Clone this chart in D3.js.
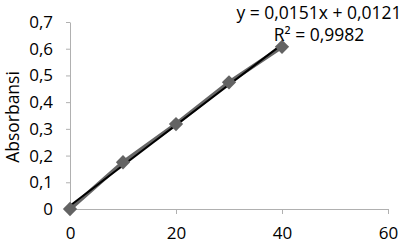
<!DOCTYPE html>
<html>
<head>
<meta charset="utf-8">
<script src="https://cdn.jsdelivr.net/npm/d3@7"></script>
<style>
body { margin: 0; background: #fff; }
text { font-family: "Open Sans", sans-serif; fill: #000; }
</style>
</head>
<body>
<script>
var w = 405;
var h = 244;

// data
var konsentrasi = [0, 10, 20, 30, 40];
var absorbansi = [0, 0.175, 0.318, 0.474, 0.607];
var slope = 0.0151;
var intercept = 0.0121;
var xTicks = [0, 20, 40, 60];
var yTicks = [0, 0.1, 0.2, 0.3, 0.4, 0.5, 0.6, 0.7];
var eqLines = ["y = 0,0151x + 0,0121", "R² = 0,9982"];

var x = d3.scaleLinear().domain([0, 60]).range([70, 388]);
var y = d3.scaleLinear().domain([0, 0.7]).range([209, 22]);

var fmt = function(d){ return String(d).replace(".", ","); };

var svg = d3.select("body").append("svg")
    .attr("width", w)
    .attr("height", h);

//---axes----
var gy = svg.append("g")
    .attr("transform", "translate(70,0)")
    .call(d3.axisLeft(y).tickValues(yTicks).tickFormat(fmt).tickSize(4).tickSizeOuter(0));
gy.select(".domain").attr("stroke", "#b0b0b0");
gy.selectAll(".tick line").attr("stroke", "#b0b0b0");
gy.selectAll(".tick text")
    .attr("x", -17)
    .attr("font-size", 17)
    .attr("fill", "#000");

var gx = svg.append("g")
    .attr("transform", "translate(0,209)")
    .call(d3.axisBottom(x).tickValues(xTicks).tickFormat(fmt).tickSize(5).tickSizeOuter(0));
gx.select(".domain").attr("stroke", "#b0b0b0");
gx.selectAll(".tick line").attr("stroke", "#b0b0b0");
gx.selectAll(".tick text")
    .attr("y", 30)
    .attr("dy", 0)
    .attr("font-size", 17)
    .attr("fill", "#000");
svg.selectAll(".tick text").style("font-family", "'Open Sans', sans-serif");

svg.append("text")
    .text("Absorbansi")
    .attr("transform", "translate(19,117) rotate(-90)")
    .attr("text-anchor", "middle")
    .attr("font-size", 17.5);

//---series----
var pts = konsentrasi.map(function(d, i){ return [d, absorbansi[i]]; });

svg.append("path")
    .datum(pts)
    .attr("fill", "none")
    .attr("stroke", "#666")
    .attr("stroke-width", 4)
    .attr("d", d3.line().x(function(d){ return x(d[0]); }).y(function(d){ return y(d[1]); }));

svg.append("line")
    .attr("x1", x(konsentrasi[0]))
    .attr("y1", y(intercept + slope * konsentrasi[0]))
    .attr("x2", x(konsentrasi[konsentrasi.length - 1]))
    .attr("y2", y(intercept + slope * konsentrasi[konsentrasi.length - 1]))
    .attr("stroke", "#000")
    .attr("stroke-width", 2);

svg.selectAll(".pt")
    .data(pts)
    .enter().append("path")
    .attr("class", "pt")
    .attr("transform", function(d){ return "translate(" + x(d[0]) + "," + y(d[1]) + ")"; })
    .attr("d", d3.symbol().type(d3.symbolDiamond2).size(130))
    .attr("fill", "#636363");

//---equation----
svg.selectAll(".eq")
    .data(eqLines)
    .enter().append("text")
    .attr("class", "eq")
    .text(function(d){ return d; })
    .attr("x", 319)
    .attr("y", function(d, i){ return 19 + i * 22; })
    .attr("text-anchor", "middle")
    .attr("font-size", 17.5);
</script>
</body>
</html>
